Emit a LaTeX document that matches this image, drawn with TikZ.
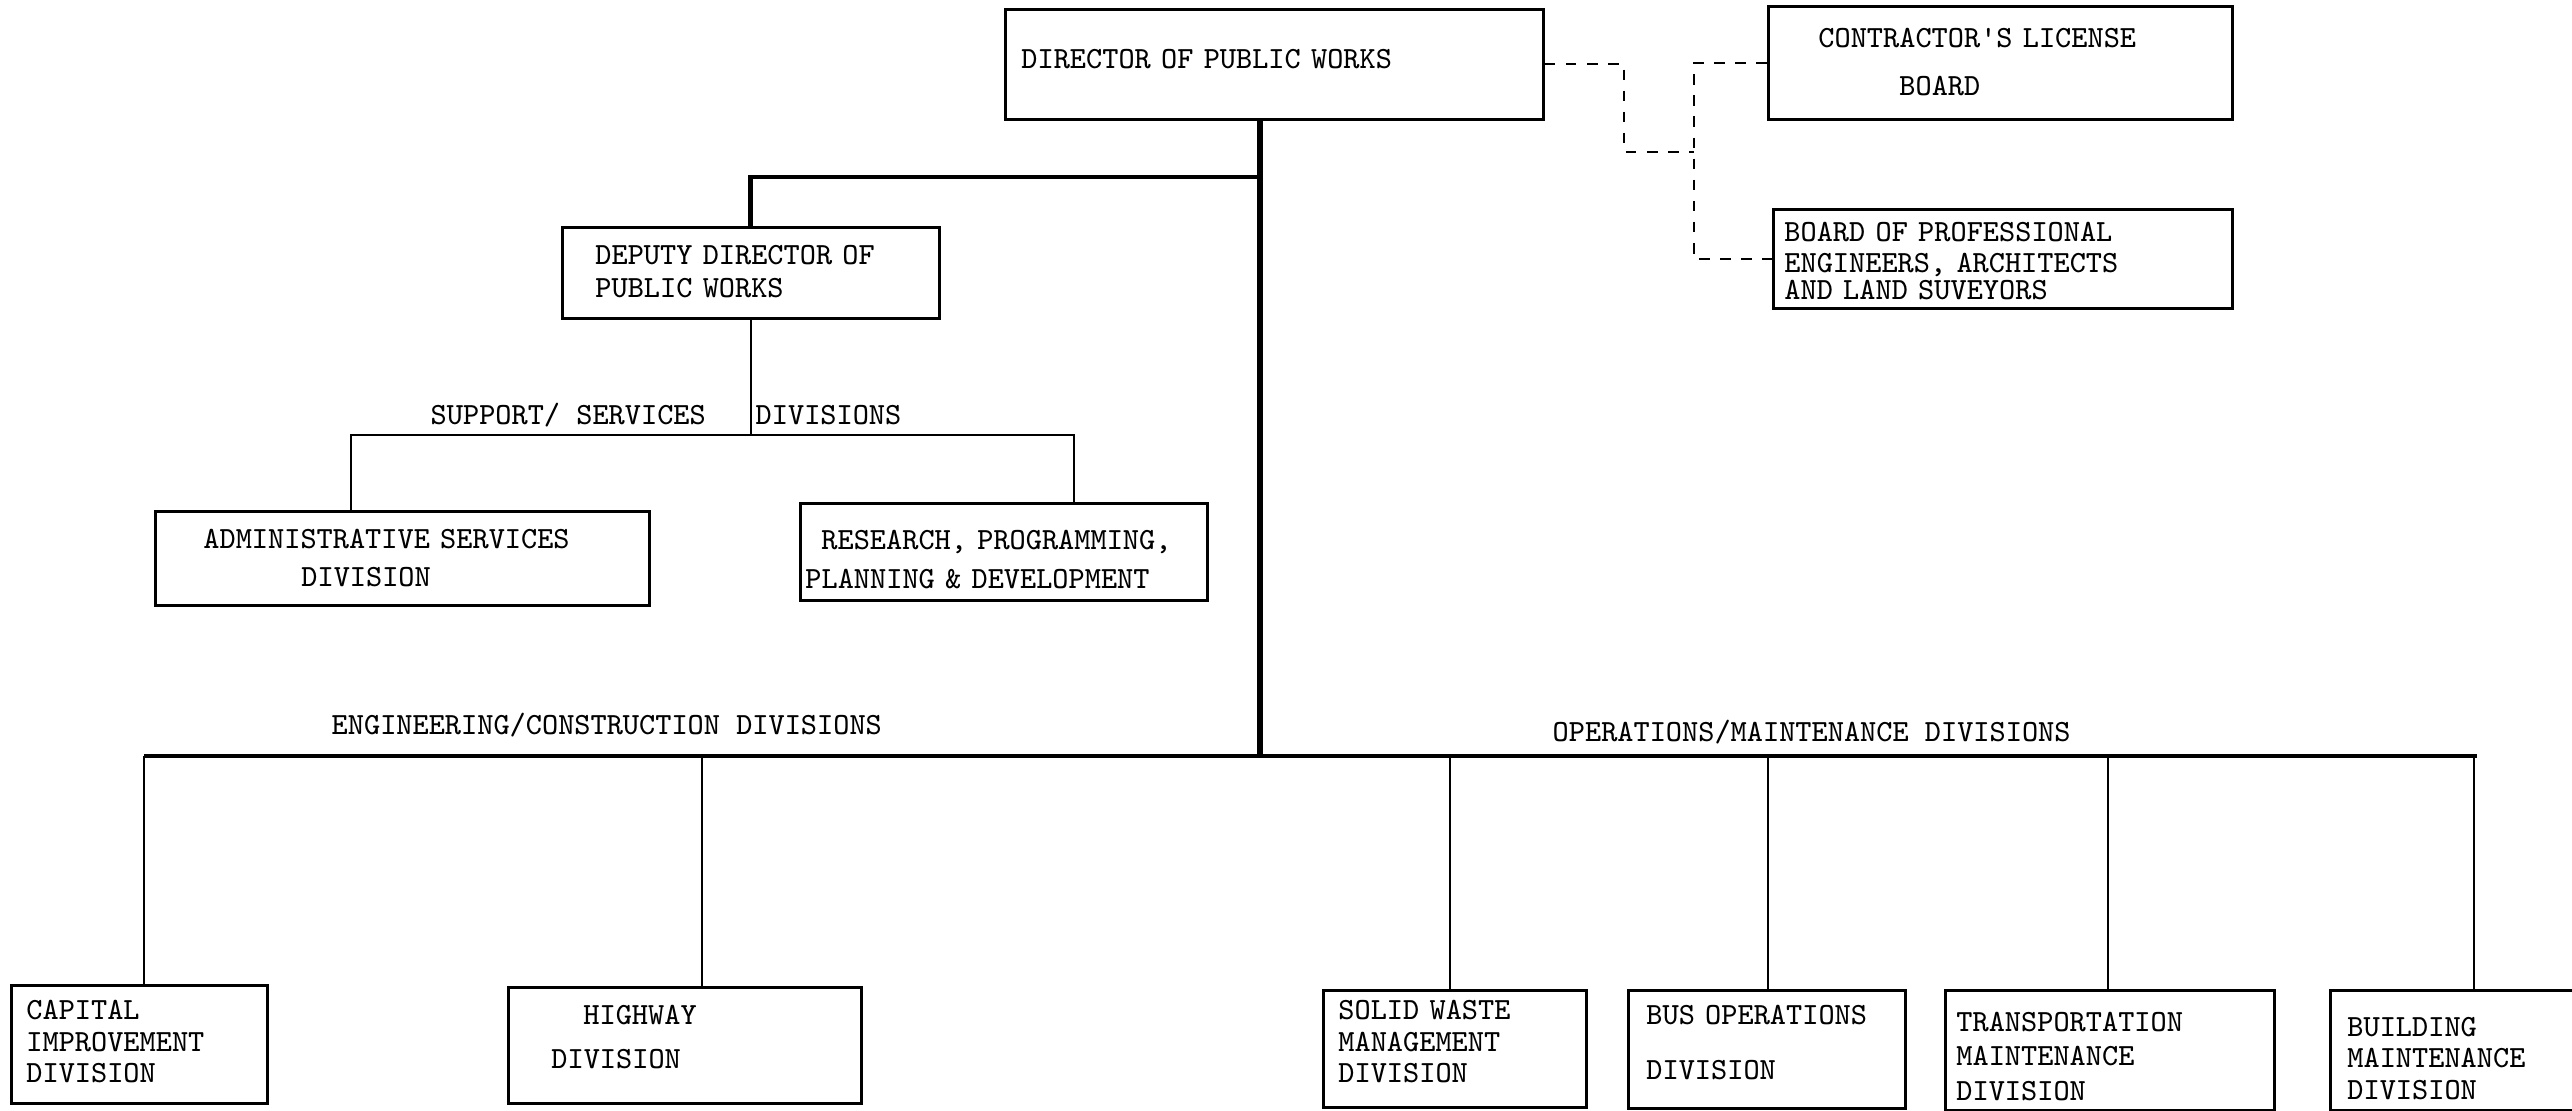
\documentclass[tikz,border=0pt]{standalone}
\usepackage{xcolor}

\begin{document}
\begin{tikzpicture}[
            font={\ttfamily\fontsize{8.77}{9}\selectfont\lineskiplimit=-20pt},
            orgbox/.style n args={4}{draw, thick, anchor=north west, align=left,
                text width=#1cm, inner xsep=#2cm, inner ysep=0pt, text height=#3cm, text depth=#4cm},
            trunk/.style={line width=1.9pt},
            branch/.style={line width=1.4pt},
            drop/.style={semithick},
            link/.style={semithick, dashed},
            caption/.style={anchor=base west, inner sep=0pt}
        ]
            \useasboundingbox (0, 0) rectangle (25.72, -11.10);

            \node[orgbox={5.06}{0.16}{0.587}{0.513}] (dir) at (10.04, -0.08) {DIRECTOR OF PUBLIC WORKS};
            \node[orgbox={3.64}{0.50}{0.407}{0.723}] (clb) at (17.67, -0.05)
                {CONTRACTOR\textquotesingle S LICENSE\\[4.7pt]\hspace*{0.81cm}BOARD};
            \node[orgbox={4.37}{0.11}{0.325}{0.665}] (bop) at (17.72, -2.08)
                {BOARD OF PROFESSIONAL\\[-0.4pt]ENGINEERS, ARCHITECTS\\[-1.2pt]AND LAND SUVEYORS};
            \node[orgbox={3.11}{0.33}{0.374}{0.536}] (dep) at (5.61, -2.26)
                {DEPUTY DIRECTOR OF\\[0.4pt]PUBLIC WORKS};
            \node[orgbox={3.98}{0.48}{0.374}{0.566}] (adm) at (1.54, -5.10)
                {ADMINISTRATIVE SERVICES\\[1.8pt]\hspace*{0.98cm}DIVISION};
            \node[orgbox={3.97}{0.05}{0.456}{0.514}] (rpd) at (7.99, -5.02)
                {\hspace*{0.16cm}RESEARCH, PROGRAMMING,\\[2.1pt]PLANNING \& DEVELOPMENT};

            \node[orgbox={2.26}{0.15}{0.341}{0.839}] (cap) at (0.10, -9.84) {CAPITAL\\IMPROVEMENT\\DIVISION};
            \node[orgbox={2.67}{0.43}{0.374}{0.786}] (hwy) at (5.07, -9.86)
                {\hspace*{0.32cm}HIGHWAY\\[3.5pt]DIVISION};
            \node[orgbox={2.33}{0.15}{0.292}{0.878}] (swm) at (13.22, -9.89)
                {SOLID WASTE\\MANAGEMENT\\DIVISION};
            \node[orgbox={2.41}{0.18}{0.341}{0.839}] (bus) at (16.27, -9.89)
                {BUS OPERATIONS\\[6.6pt]DIVISION};
            \node[orgbox={3.07}{0.11}{0.407}{0.793}] (tmd) at (19.44, -9.89)
                {TRANSPORTATION\\[0.8pt]MAINTENANCE\\[0.8pt]DIVISION};
            \node[orgbox={2.17}{0.17}{0.456}{0.744}] (bmd) at (23.29, -9.89)
                {BUILDING\\MAINTENANCE\\DIVISION};

            \node[caption] (suplbl) at (4.30, -4.245) {SUPPORT/ SERVICES};
            \node[caption] (divlbl) at (7.55, -4.245) {DIVISIONS};
            \node[caption] (englbl) at (3.31, -7.345) {ENGINEERING/CONSTRUCTION DIVISIONS};
            \node[caption] (opslbl) at (15.52, -7.415) {OPERATIONS/MAINTENANCE DIVISIONS};

            \coordinate (hub) at (12.60, -7.56);
            \coordinate (split) at (12.60, -1.77);
            \coordinate (admtap) at (3.51, -4.35);
            \coordinate (rpdtap) at (10.74, -4.35);
            \coordinate (west) at (1.44, -7.56);
            \coordinate (east) at (24.77, -7.56);
            \coordinate (bend) at (16.24, -1.52);
            \coordinate (rail) at (16.94, -1.52);

            \draw[trunk] (hub |- dir.south) -- (hub);
            \draw[branch] (split) -| (dep.north);
            \draw[branch] (west) -- (east);

            \draw[drop] (dep.south) -- (dep.south |- admtap);
            \draw[drop] (admtap |- adm.north) -- (admtap) -- (rpdtap) -- (rpdtap |- rpd.north);

            \foreach \b/\x in {cap/1.44, hwy/7.02, swm/14.50, bus/17.68, tmd/21.08, bmd/24.74} {
                \coordinate (tap) at (\x, -7.56);
                \draw[drop] (tap) -- (tap |- \b.north);
            }

            \draw[link] (dir.east) -| (bend) -- (rail);
            \draw[link] (clb.west) -| (rail) |- (bop.west);
        \end{tikzpicture}
\end{document}
